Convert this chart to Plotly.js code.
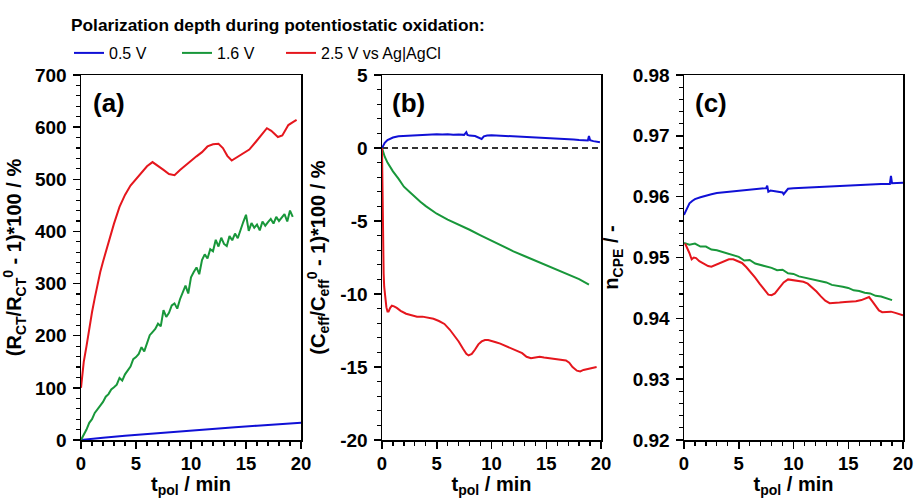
<!DOCTYPE html>
<html>
<head>
<meta charset="utf-8">
<script src="https://cdn.plot.ly/plotly-3.0.1.min.js"></script>
<style>html,body{margin:0;padding:0;background:#fff;}#chart{width:914px;height:498px;}</style>
</head>
<body>
<div id="chart"></div>
<script>
// ---------- legend / labels ----------
const legendTitle = 'Polarization depth during potentiostatic oxidation:';
const seriesNames = ['0.5 V', '1.6 V', '2.5 V vs Ag|AgCl'];
const panelLabels = ['(a)', '(b)', '(c)'];
const xTicks = [0, 5, 10, 15, 20];
const yTicksA = [0, 100, 200, 300, 400, 500, 600, 700];
const yTicksB = [-20, -15, -10, -5, 0, 5];
const yTickTextB = ['-20', '-15', '-10', '-5', '0', '5'];
const yTicksC = [0.92, 0.93, 0.94, 0.95, 0.96, 0.97, 0.98];

// ---------- panel (a): (R_CT/R_CT0 - 1)*100 ----------
const tA_blue = [0, 1, 2, 4, 6, 8, 10, 12, 14, 16, 18, 20];
const a_blue  = [0, 2.5, 4.5, 8, 11.5, 15, 18, 21.5, 24.5, 27.5, 30.5, 33];

const tA_green = [0,0.25,0.5,0.75,1,1.25,1.5,1.75,2,2.25,2.5,2.75,3,3.25,3.5,3.75,4,4.25,4.5,4.75,
  5,5.25,5.5,5.75,6,6.25,6.5,6.75,7,7.25,7.5,7.75,8,8.25,8.5,8.75,9,9.25,9.5,9.75,
  10,10.25,10.5,10.75,11,11.25,11.5,11.75,12,12.25,12.5,12.75,13,13.25,13.5,13.75,14,14.25,14.5,14.75,
  15,15.25,15.5,15.75,16,16.25,16.5,16.75,17,17.25,17.5,17.75,18,18.25,18.5,18.75,19,19.25];
const a_green = [0,9,20,33,40,52,58,66,73,83,88,97,101,106,119,114,126,133,141,155,
  159,165,178,170,188,201,207,213,223,218,249,236,244,258,262,252,270,283,296,281,
  312,322,331,318,345,356,348,366,362,384,371,388,376,372,391,383,396,387,405,418,
  432,401,416,407,413,402,419,411,418,424,415,428,420,426,433,419,440,428];

const tA_red = [0,0.1,0.25,0.5,0.75,1,1.25,1.5,1.75,2,2.5,3,3.5,4,4.5,5,5.5,6,6.5,7,7.5,8,8.5,9,9.5,10,
  10.5,11,11.5,12,12.5,12.9,13.3,13.7,14.2,14.75,15.3,15.9,16.5,16.9,17.3,17.9,18.3,18.85,19.3,19.6];
const a_red  = [100,125,150,180,215,245,272,298,322,342,380,415,447,470,488,500,512,525,533,526,518,510,508,518,527,536,
  544,552,563,567,568,560,545,536,543,550,557,572,588,598,593,581,584,604,610,614];

// ---------- panel (b): (C_eff/C_eff0 - 1)*100 ----------
const tB_blue = [0,0.1,0.25,0.5,0.75,1,1.5,2,2.5,3,3.5,4,4.5,5,5.5,6,6.5,7,7.5,7.7,7.8,8,8.5,8.9,9.1,9.3,9.6,
  10,10.5,11,11.5,12,12.5,13,13.5,14,14.5,15,15.5,16,16.5,17,17.5,18,18.5,18.8,18.9,19,19.3,19.6,19.9];
const b_blue  = [0,0.15,0.35,0.55,0.66,0.72,0.8,0.82,0.86,0.88,0.9,0.92,0.9,0.95,0.92,0.94,0.9,0.93,0.9,1.08,0.9,0.85,0.82,0.68,0.62,0.8,0.86,
  0.88,0.86,0.84,0.83,0.82,0.8,0.8,0.78,0.76,0.74,0.72,0.7,0.66,0.64,0.62,0.58,0.55,0.53,0.52,0.82,0.54,0.47,0.44,0.4];

const tB_green = [0,0.1,0.25,0.5,0.75,1,1.5,2,2.5,3,3.5,4,5,6,7,8,9,10,11,12,13,14,15,16,17,18,18.9];
const b_green  = [0,-0.3,-0.6,-1.0,-1.3,-1.6,-2.1,-2.65,-3.0,-3.35,-3.68,-3.98,-4.5,-4.9,-5.24,-5.6,-5.98,-6.35,-6.72,-7.08,-7.4,-7.72,-8.05,-8.36,-8.65,-8.98,-9.35];

const tB_red = [0,0.03,0.06,0.1,0.15,0.2,0.3,0.4,0.5,0.6,0.75,0.9,1.1,1.35,1.7,2.2,2.7,3.2,3.7,4.2,4.7,5.2,5.7,6.2,6.6,7.0,
  7.4,7.7,7.9,8.2,8.5,8.8,9.1,9.4,9.7,10.0,10.4,10.8,11.3,11.8,12.3,12.8,13.2,13.6,14.0,14.4,14.8,15.2,15.6,16.0,
  16.4,16.8,17.1,17.4,17.8,18.1,18.4,18.7,19.0,19.3,19.6];
const b_red  = [0,-2.5,-5,-7,-8.6,-9.5,-10.4,-10.9,-11.2,-11.2,-10.95,-10.8,-10.85,-10.95,-11.15,-11.35,-11.45,-11.55,-11.55,-11.6,-11.7,-11.85,-12.05,-12.45,-12.85,-13.25,
  -13.75,-14.1,-14.2,-14.1,-13.8,-13.45,-13.25,-13.15,-13.15,-13.2,-13.3,-13.4,-13.55,-13.7,-13.85,-14.05,-14.3,-14.4,-14.35,-14.3,-14.35,-14.4,-14.4,-14.45,
  -14.5,-14.55,-14.7,-15.0,-15.25,-15.3,-15.2,-15.15,-15.1,-15.05,-15.0];

// ---------- panel (c): n_CPE ----------
const tC_blue = [0,0.1,0.25,0.5,0.75,1,1.5,2,2.5,3,4,5,6,7,7.5,7.6,7.7,7.9,8.2,8.6,9.0,9.1,9.25,9.5,
  10,11,12,13,14,15,16,17,18,18.8,18.9,19.0,19.3,19.6,20];
const c_blue  = [0.9570,0.9574,0.9582,0.9589,0.9593,0.9596,0.9599,0.9602,0.9604,0.9606,0.9608,0.9610,0.9611,0.9613,0.9614,0.9618,0.9608,0.9610,0.9609,0.9608,0.9607,0.9604,0.9607,0.9613,
  0.9614,0.9615,0.9616,0.9617,0.9618,0.9619,0.9620,0.9620,0.9621,0.9621,0.9634,0.9622,0.9622,0.9622,0.9623];

const tC_green = [0,0.5,1,1.5,2,2.5,3,3.5,4,4.5,5,5.5,6,6.5,7,7.5,8,8.5,9,9.5,10,10.5,11,11.5,12,12.5,13,13.5,14,14.5,15,15.5,16,16.5,17,17.5,18,18.5,19];
const c_green  = [0.9524,0.9521,0.9523,0.9518,0.9518,0.9513,0.9512,0.9509,0.9506,0.9503,0.9501,0.9495,0.9496,0.9490,0.9488,0.9485,0.9483,0.9479,0.9480,0.9474,0.9473,0.9469,0.9467,0.9464,0.9462,0.9460,0.9459,0.9455,0.9454,0.9452,0.9450,0.9446,0.9445,0.9442,0.9441,0.9437,0.9436,0.9433,0.9430];

const tC_red = [0.1,0.3,0.5,0.7,0.9,1.1,1.4,1.8,2.2,2.5,2.9,3.3,3.7,4.1,4.5,4.9,5.3,5.7,6.1,6.5,6.9,7.3,7.7,8.0,8.3,8.7,9.1,9.5,9.9,
  10.4,10.9,11.3,11.7,12.1,12.5,12.9,13.3,13.7,14.2,14.7,15.2,15.7,16.2,16.6,16.9,17.2,17.5,17.8,18.1,18.5,18.9,19.3,19.7,20];
const c_red  = [0.9523,0.9516,0.9507,0.9497,0.9500,0.9499,0.9494,0.9490,0.9486,0.9485,0.9488,0.9492,0.9495,0.9497,0.9497,0.9494,0.9491,0.9484,0.9476,0.9467,0.9457,0.9447,0.9439,0.9438,0.9441,0.9450,0.9459,0.9464,0.9463,
  0.9461,0.9460,0.9457,0.9451,0.9444,0.9436,0.9429,0.9425,0.9425,0.9426,0.9427,0.9427,0.9428,0.9430,0.9433,0.9435,0.9428,0.9420,0.9413,0.9410,0.9411,0.9411,0.9409,0.9407,0.9405];

// ---------- styles ----------
const colors = ['#1010d6', '#18973a', '#e5161d'];
const FONT = 'Liberation Sans, Arial, Helvetica, sans-serif';
const legendIds = ['legend', 'legend2', 'legend3'];

function tr(x, y, i, xa, ya, show) {
  return {x: x, y: y, xaxis: xa, yaxis: ya, type: 'scatter', mode: 'lines',
    name: seriesNames[i], legendgroup: 'g' + i, showlegend: show, legend: legendIds[i],
    line: {color: colors[i], width: 2}, hoverinfo: 'skip'};
}
const data = [
  tr(tA_blue, a_blue, 0, 'x', 'y', true),
  tr(tA_green, a_green, 1, 'x', 'y', true),
  tr(tA_red, a_red, 2, 'x', 'y', true),
  tr(tB_blue, b_blue, 0, 'x2', 'y2', false),
  tr(tB_green, b_green, 1, 'x2', 'y2', false),
  tr(tB_red, b_red, 2, 'x2', 'y2', false),
  tr(tC_blue, c_blue, 0, 'x3', 'y3', false),
  tr(tC_green, c_green, 1, 'x3', 'y3', false),
  tr(tC_red, c_red, 2, 'x3', 'y3', false)
];

function minorTicks(dt, t0) {
  return {ticks: 'outside', ticklen: 4, tickwidth: 1.2, tickcolor: '#000', dtick: dt, tick0: t0, showgrid: false};
}
function axis(extra) {
  return Object.assign({
    showline: true, linecolor: '#000', linewidth: 1.5, mirror: true,
    ticks: 'outside', ticklen: 7, tickwidth: 1.5, tickcolor: '#000',
    showgrid: false, zeroline: false, fixedrange: true,
    tickfont: {family: FONT, size: 19, weight: 'bold', color: '#000'},
    ticklabelstandoff: 2, ticklabeloverflow: 'allow'
  }, extra);
}
const titleFont = {family: FONT, size: 20, weight: 'bold', color: '#000'};
function xax(dom, anchor) {
  return axis({domain: dom, anchor: anchor, range: [0, 20], tickvals: xTicks,
    minor: minorTicks(1, 0), ticklabelstandoff: -1,
    tickfont: {family: FONT, size: 18.5, weight: 'bold', color: '#000'},
    title: {text: 't<sub>pol</sub> / min', font: titleFont, standoff: 5}});
}
function legendAt(px) {
  return {orientation: 'h', x: (px - 81) / 824, xanchor: 'left', y: 1 + 39 / 365, yanchor: 'top',
    bgcolor: 'rgba(0,0,0,0)', borderwidth: 0, itemwidth: 30,
    font: {family: FONT, size: 16, color: '#000'}};
}

const layout = {
  width: 914, height: 498,
  margin: {l: 81, r: 9, t: 75, b: 58},
  paper_bgcolor: '#fff', plot_bgcolor: '#fff',
  font: {family: FONT, color: '#000'},
  xaxis: xax([0, 220 / 824], 'y'),
  xaxis2: xax([301 / 824, 520 / 824], 'y2'),
  xaxis3: xax([603 / 824, 822 / 824], 'y3'),
  yaxis: axis({anchor: 'x', range: [0, 700], tickvals: yTicksA, minor: minorTicks(20, 0),
    title: {text: '(R<sub>CT</sub>/R<sub>CT</sub><sup>0</sup> - 1)*100 / %', font: titleFont, standoff: 8}}),
  yaxis2: axis({anchor: 'x2', range: [-20, 5], tickvals: yTicksB, ticktext: yTickTextB, minor: minorTicks(1, 0),
    title: {text: '(C<sub>eff</sub>/C<sub>eff</sub><sup>0</sup> - 1)*100 / %', font: titleFont, standoff: 9}}),
  yaxis3: axis({anchor: 'x3', range: [0.92, 0.98], tickvals: yTicksC, tickformat: '.2f', minor: minorTicks(0.002, 0.92),
    title: {text: 'n<sub>CPE</sub> / -', font: titleFont, standoff: 8}}),
  shapes: [{type: 'line', xref: 'x2 domain', yref: 'y2', x0: 0, x1: 1, y0: 0, y1: 0,
    line: {color: '#333', width: 2, dash: '6px,4px'}, layer: 'below'}],
  annotations: [
    {text: legendTitle, xref: 'paper', yref: 'paper', x: -12 / 824, y: 1 + 50 / 365, xanchor: 'left', yanchor: 'middle',
      showarrow: false, font: {family: FONT, size: 17.3, weight: 'bold', color: '#000'}},
    {text: panelLabels[0], xref: 'x domain', yref: 'y domain', x: 0.045, y: 0.923, xanchor: 'left', yanchor: 'middle', showarrow: false, font: {family: FONT, size: 26, weight: 'bold'}},
    {text: panelLabels[1], xref: 'x2 domain', yref: 'y2 domain', x: 0.037, y: 0.923, xanchor: 'left', yanchor: 'middle', showarrow: false, font: {family: FONT, size: 26, weight: 'bold'}},
    {text: panelLabels[2], xref: 'x3 domain', yref: 'y3 domain', x: 0.041, y: 0.923, xanchor: 'left', yanchor: 'middle', showarrow: false, font: {family: FONT, size: 26, weight: 'bold'}}
  ],
  showlegend: true,
  legend: legendAt(69),
  legend2: legendAt(177),
  legend3: legendAt(281)
};

Plotly.newPlot('chart', data, layout, {displayModeBar: false, staticPlot: true});
</script>
</body>
</html>
